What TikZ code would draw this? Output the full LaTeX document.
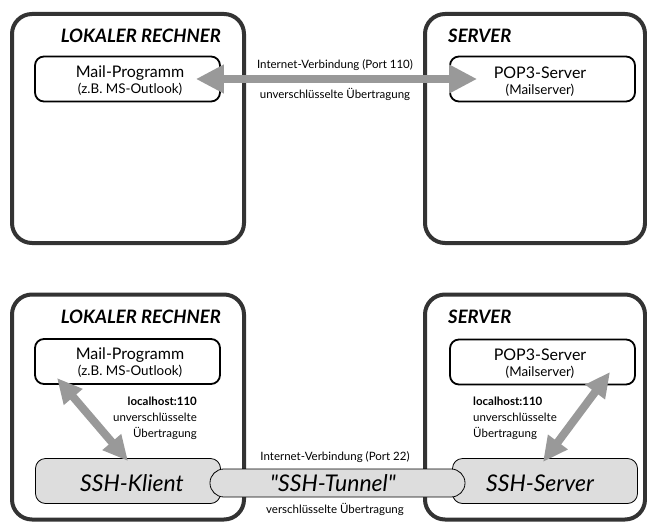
\documentclass[tikz,border=0pt]{standalone}
\usepackage{fontspec}
\setmainfont{Lato}[Ligatures=TeXOff]
\usetikzlibrary{arrows.meta,calc}
\definecolor{frame}{HTML}{333333}
\definecolor{arrowgray}{HTML}{999999}
\definecolor{boxfill}{HTML}{DDDDDD}
\begin{document}
\begin{tikzpicture}[x=1pt,y=-1pt,
  bigbox/.style={draw=frame,line width=4pt,rounded corners=20pt,inner sep=0pt},
  progbox/.style={draw=black,line width=1.8pt,rounded corners=9pt,fill=white,inner sep=0pt,minimum width=185pt,minimum height=45pt},
  sshbox/.style={draw=black,line width=0.8pt,rounded corners=10pt,fill=boxfill,inner sep=0pt,minimum width=185pt,minimum height=45pt},
  tunnel/.style={draw=black,line width=0.8pt,rounded corners=13.9pt,fill=boxfill,inner sep=0pt,minimum width=255pt,minimum height=28pt},
  title/.style={font=\fontsize{18.5}{20}\selectfont\bfseries\itshape,inner sep=0pt},
  main/.style={font=\fontsize{16}{18}\selectfont,inner sep=0pt},
  sub/.style={font=\fontsize{13.4}{15}\selectfont,inner sep=0pt},
  lbl/.style={font=\fontsize{11.5}{16}\selectfont,inner sep=0pt},
  ssh/.style={font=\fontsize{23}{26}\selectfont\itshape,inner sep=0pt},
  bigarrow/.style={draw=arrowgray,line width=8pt,{Triangle[width=27pt,length=28pt]}-{Triangle[width=27pt,length=28pt]}},
  diagarrow/.style={draw=arrowgray,line width=8pt,{Triangle[width=23pt,length=25pt]}-{Triangle[width=23pt,length=25pt]}}
]
\useasboundingbox (0,0) rectangle (647,524);
% ---------- top diagram ----------
\node[bigbox,minimum width=232pt,minimum height=229pt] (L1) at (128,128.5) {};
\node[bigbox,minimum width=220pt,minimum height=229pt] (S1) at (535,128.5) {};
\node[title,anchor=east] (LT1) at (221,36) {LOKALER RECHNER};
\node[title,anchor=west] (ST1) at (448,36) {SERVER};
\node[progbox] (m1) at (127.5,79) {};
\node[main] (m1t) at (130,73) {Mail-Programm};
\node[sub] (m1s) at (130,89) {(z.B. MS-Outlook)};
\node[progbox] (p1) at (542.5,79) {};
\node[main] (p1t) at (540,73) {POP3-Server};
\node[sub] (p1s) at (540,90) {(Mailserver)};
\draw[bigarrow] ([xshift=-25pt]m1.east) -- ([xshift=28pt]p1.west);
\node[lbl] (c1a) at (335,65) {Internet-Verbindung (Port 110)};
\node[lbl] (c1b) at (335,94) {unverschlüsselte Übertragung};
% ---------- bottom diagram ----------
\node[bigbox,minimum width=232pt,minimum height=225pt] (L2) at (128,407) {};
\node[bigbox,minimum width=220pt,minimum height=225pt] (S2) at (535,407) {};
\node[title,anchor=east] (LT2) at (221,317) {LOKALER RECHNER};
\node[title,anchor=west] (ST2) at (448,317) {SERVER};
\node[progbox] (m2) at (127.5,361.5) {};
\node[main] (m2t) at (130,355) {Mail-Programm};
\node[sub] (m2s) at (130,371) {(z.B. MS-Outlook)};
\node[progbox] (p2) at (542.5,362) {};
\node[main] (p2t) at (540,355) {POP3-Server};
\node[sub] (p2s) at (540,372) {(Mailserver)};
\node[sshbox] (k) at (128,481) {};
\node[sshbox] (sv) at (545,481) {};
\node[tunnel] (t) at (337.5,483) {};
\node[ssh] (kt) at (132,483) {SSH-Klient};
\node[ssh] (svt) at (540,483) {SSH-Server};
\node[ssh] (tt) at (333,483) {"SSH-Tunnel"};
\node[lbl] (c2a) at (335,457) {Internet-Verbindung (Port 22)};
\node[lbl] (c2b) at (335,509) {verschlüsselte Übertragung};
\coordinate (a1s) at (57,378);
\coordinate (a1e) at (128,461);
\coordinate (a2s) at (610,372);
\coordinate (a2e) at (543,462);
\draw[diagarrow] (a1s) -- (a1e);
\draw[diagarrow] (a2s) -- (a2e);
\node[lbl,align=right,anchor=north east] (ll) at (197,397) {\textbf{localhost:110}\\unverschlüsselte\\Übertragung};
\node[lbl,align=left,anchor=north west] (rl) at (473,397) {\textbf{localhost:110}\\unverschlüsselte\\Übertragung};
\end{tikzpicture}
\end{document}
